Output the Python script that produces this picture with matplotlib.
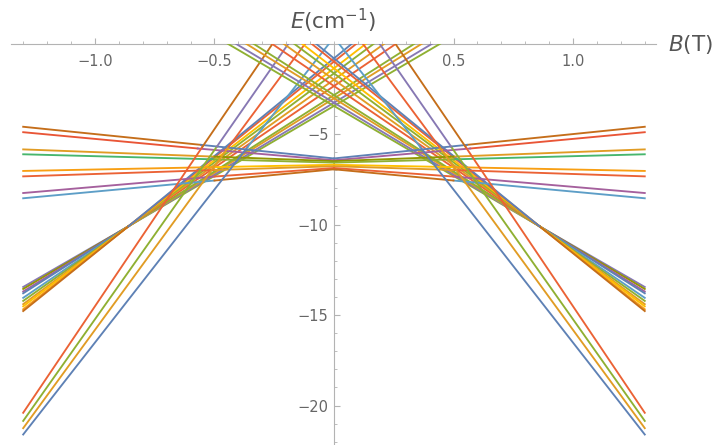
"""Zeeman-type level diagram: E(cm^-1) against B(T), Mathematica look."""
import matplotlib.pyplot as plt
from matplotlib.ticker import FixedLocator, MultipleLocator

plt.rcParams['font.family'] = ['DejaVu Sans']
plt.rcParams['mathtext.fontset'] = 'dejavusans'

# Mathematica default palette
BLUE = '#5E81B5'
ORANGE = '#E19C24'
GREEN = '#8FB032'
RED = '#EB6235'
PURPLE = '#8778B3'
BROWN = '#C56E1A'
LBLUE = '#5D9EC7'
YELLOW = '#FFBF00'
PINK = '#A5609D'
OLIVE = '#929600'
RED2 = '#E95536'
MGREEN = '#47B66D'
ORANGE2 = '#F89F13'

B_EDGE = 1.3

# nearly flat levels (same on both sides of B = 0)
flat_E_edge = [-4.6, -4.9, -5.85, -6.12, -7.04, -7.34, -8.26, -8.55]
flat_B_knee = [0.556, 0.57, 0.5, 0.5, 0.5, 0.5, 0.5, 0.5]
flat_E_knee = [-5.6, -5.8, -6.25, -6.4, -6.83, -6.99, -7.35, -7.57]
flat_E_center = [-6.35, -6.45, -6.5, -6.58, -6.7, -6.78, -6.88, -6.95]
flat_col_out = [BROWN, RED2, ORANGE, MGREEN, ORANGE2, RED, PINK, LBLUE]
flat_col_in = [BLUE, PINK, OLIVE, GREEN, YELLOW, ORANGE, RED, BROWN]

# bundle of levels crossing near |B| = 0.86
bundle_E_edge = [-13.45, -13.56, -13.7, -13.8, -14.05, -14.22, -14.4,
                 -14.52, -14.68, -14.78]
bundle_E0 = [-3.45, -3.27, -3.03, -2.85, -2.35, -2.0, -1.65, -1.37,
             -1.0, -0.82]
bundle_B_top = [0.446, 0.412, 0.369, 0.338, 0.261, 0.212, 0.168, 0.135,
                0.095, 0.076]
waist_B, waist_E = 0.86, -10.1
bundle_col_out = [PURPLE, OLIVE, PINK, BLUE, LBLUE, GREEN, ORANGE, YELLOW,
                  ORANGE2, BROWN]
bundle_col_in = [GREEN, PURPLE, ORANGE, GREEN, RED, ORANGE, GREEN, YELLOW,
                 RED, BLUE]

# steep levels
steep_E_edge = [-20.4, -20.85, -21.25, -21.6]
steep_B_split = [0.55, 0.49, 0.44, 0.36]
steep_B_top = [0.256, 0.19, 0.12, 0.02]
split_E = -5.7
steep_col_low = [RED, GREEN, ORANGE, BLUE]
steep_col_high = [BROWN, PURPLE, RED, LBLUE]

fig = plt.figure(figsize=(7.19, 4.45), dpi=100)
ax = fig.add_axes([11 / 719, 0, 645 / 719, 401.5 / 445])

lw = 1.35
for sg in (-1, 1):
    for i in range(len(bundle_E0)):
        ax.plot([sg * B_EDGE, sg * waist_B], [bundle_E_edge[i], waist_E],
                color=bundle_col_out[i], lw=lw, zorder=3)
        ax.plot([sg * waist_B, 0, -sg * bundle_B_top[i]],
                [waist_E, bundle_E0[i], 0], color=bundle_col_in[i], lw=lw,
                zorder=3)
    for i in range(len(flat_E_edge)):
        ax.plot([sg * B_EDGE, sg * flat_B_knee[i]],
                [flat_E_edge[i], flat_E_knee[i]],
                color=flat_col_out[i], lw=lw, zorder=3)
        ax.plot([sg * flat_B_knee[i], 0], [flat_E_knee[i], flat_E_center[i]],
                color=flat_col_in[i], lw=lw, zorder=3)
    for i in range(len(steep_E_edge)):
        ax.plot([sg * B_EDGE, sg * steep_B_split[i]],
                [steep_E_edge[i], split_E], color=steep_col_low[i], lw=lw,
                zorder=3)
        ax.plot([sg * steep_B_split[i], sg * steep_B_top[i]], [split_E, 0],
                color=steep_col_high[i], lw=lw, zorder=3)

ax.set_xlim(-1.351, 1.347)
ax.set_ylim(-22.18, 0)
ax.patch.set_visible(False)

axis_col = '#B3B3B3'
for side in ('top', 'right'):
    ax.spines[side].set_visible(False)
ax.spines['bottom'].set_position(('data', 0))
ax.spines['left'].set_position(('data', 0))
for side in ('bottom', 'left'):
    ax.spines[side].set_color(axis_col)
    ax.spines[side].set_linewidth(0.8)
    ax.spines[side].set_zorder(1)

ax.xaxis.set_major_locator(FixedLocator([-1.0, -0.5, 0.5, 1.0]))
ax.xaxis.set_minor_locator(MultipleLocator(0.1))
ax.yaxis.set_major_locator(FixedLocator([-5, -10, -15, -20]))
ax.yaxis.set_minor_locator(MultipleLocator(1))
ax.tick_params(which='both', direction='in', color=axis_col,
               labelcolor='#666666', labelsize=10.5)
ax.tick_params(which='major', length=4, width=0.8)
ax.tick_params(which='minor', length=2.2, width=0.6)
ax.tick_params(axis='x', pad=7.5)
ax.tick_params(axis='y', pad=4)

fig.text(333 / 719, 1 - 21 / 445, r'$E$(cm$^{-1}$)', ha='center',
         va='center', fontsize=15.5, color='#555555')
fig.text(668 / 719, 1 - 44 / 445, r'$B$(T)', ha='left', va='center',
         fontsize=15.5, color='#555555')

fig.savefig('out.png', dpi=100)
